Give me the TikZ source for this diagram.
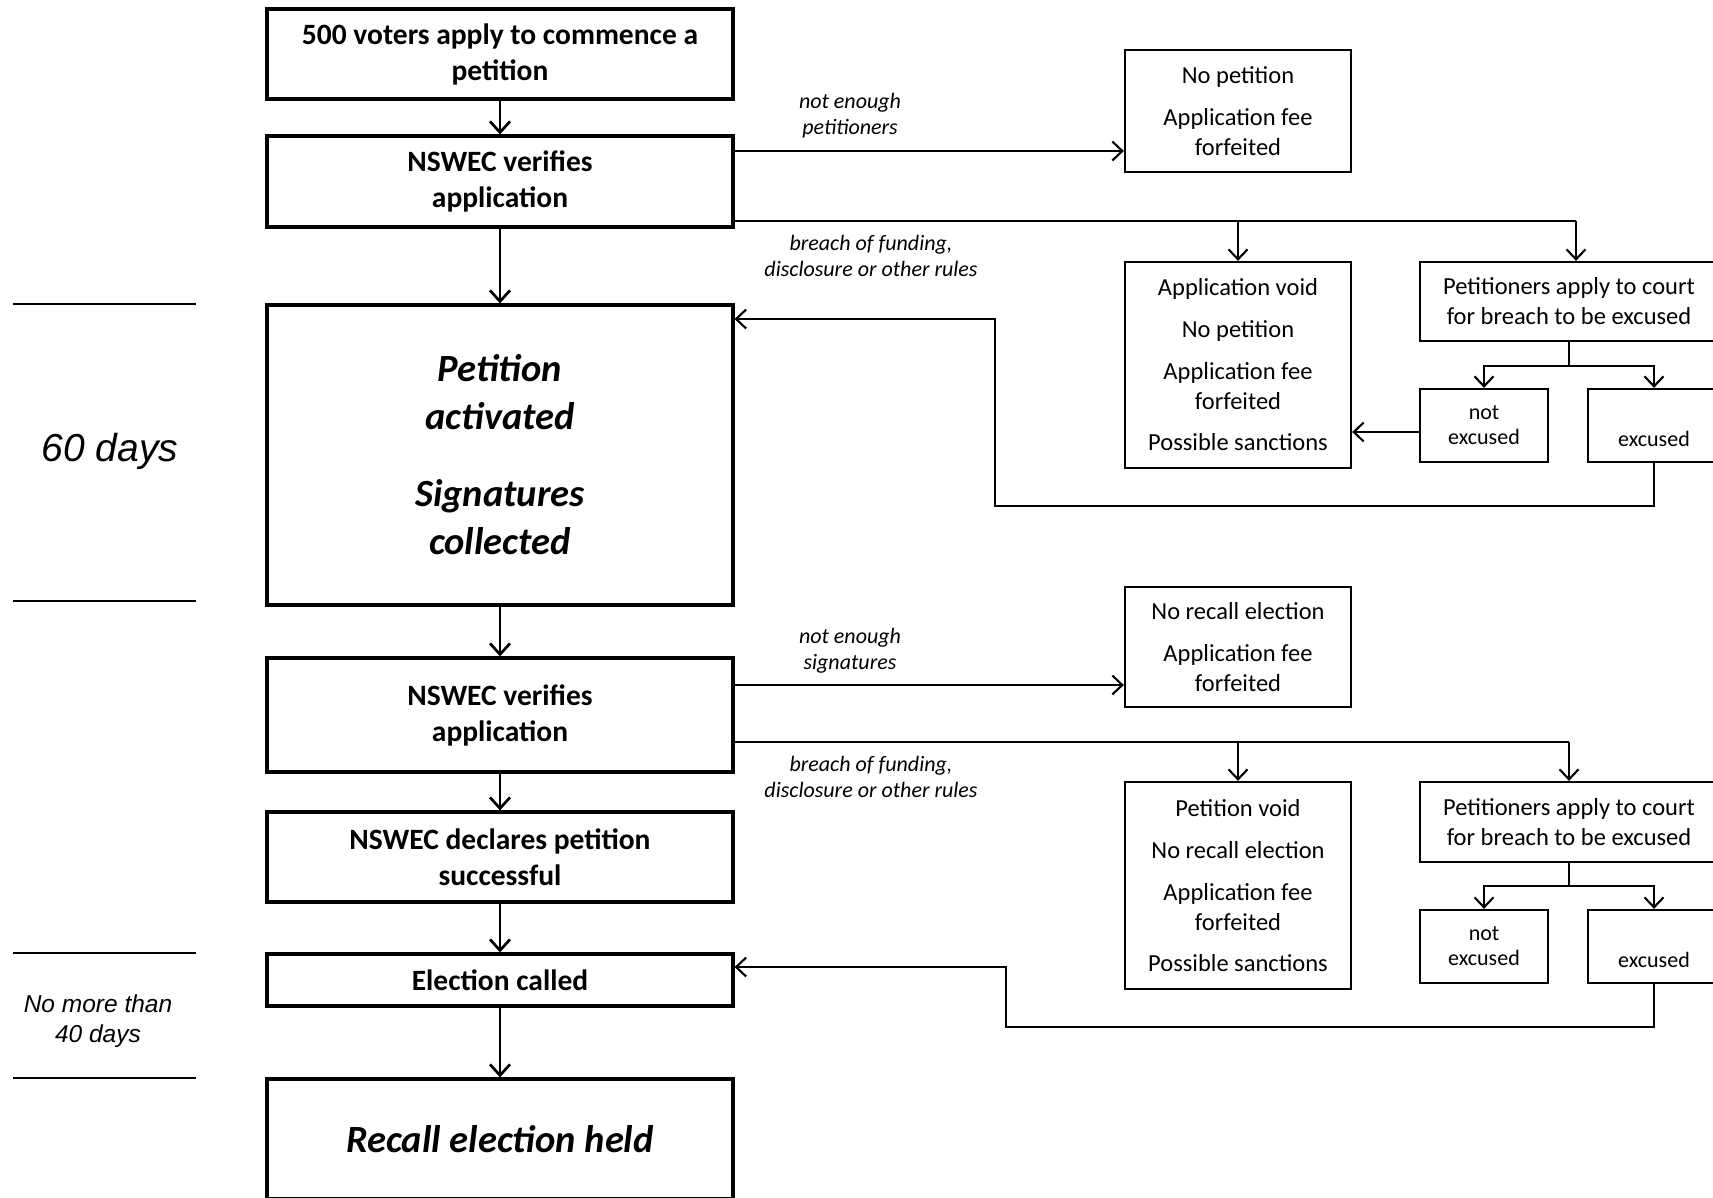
\documentclass[tikz,border=0pt]{standalone}
\usepackage{fontspec}
\setmainfont{Carlito}
\newfontfamily\arialf{Liberation Sans}
\usetikzlibrary{arrows.meta}
\begin{document}
\begin{tikzpicture}[x=1pt,y=-1pt,
  mainbox/.style={draw, line width=3.2pt, inner sep=0pt, align=center, minimum width=466pt,
    font=\fontsize{29.5pt}{36pt}\selectfont\bfseries},
  bigbox/.style={mainbox, font=\fontsize{38.5pt}{48pt}\selectfont\bfseries\itshape},
  sidebox/.style={draw, line width=2.3pt, inner sep=0pt, align=center,
    font=\fontsize{24.5pt}{30pt}\selectfont},
  smallbox/.style={sidebox, font=\fontsize{22pt}{25pt}\selectfont},
  lbl/.style={inner sep=0pt, align=center, font=\fontsize{22pt}{26pt}\selectfont\itshape},
  mainarrow/.style={line width=2.7pt, -{Straight Barb[length=11pt,width=20pt]}},
  thinarrow/.style={line width=2.1pt, -{Straight Barb[length=10pt,width=19pt]}},
  thinline/.style={line width=2.1pt},
  timeline/.style={line width=2.5pt}
]
\useasboundingbox (0,0) rectangle (1713,1197);
\clip (0,0) rectangle (1713,1197);
\fill[white] (0,0) rectangle (1713,1197);

% main column
\node[mainbox, minimum height=90pt] (b1) at (500,54) {500 voters apply to commence a\\petition};
\node[mainbox, minimum height=91pt] (b2) at (500,181.5) {NSWEC verifies\\application};
\node[bigbox, minimum height=300pt] (b3) at (500,455) {Petition\\activated\\[29pt]Signatures\\collected};
\node[mainbox, minimum height=114pt] (b4) at (500,715) {NSWEC verifies\\application};
\node[mainbox, minimum height=90pt] (b5) at (500,857) {NSWEC declares petition\\successful};
\node[mainbox, minimum height=52pt] (b6) at (500,980) {Election called};
\node[bigbox, minimum height=120pt] (b7) at (500,1139) {Recall election held};

\draw[mainarrow] (b1) -- (b2);
\draw[mainarrow] (b2) -- (b3);
\draw[mainarrow] (b3) -- (b4);
\draw[mainarrow] (b4) -- (b5);
\draw[mainarrow] (b5) -- (b6);
\draw[mainarrow] (b6) -- (b7);

% time labels
\node[inner sep=0pt, font=\arialf\fontsize{39pt}{46pt}\selectfont\itshape] (t60) at (110,451) {60 days};
\node[inner sep=0pt, align=center, font=\arialf\fontsize{24.5pt}{30pt}\selectfont\itshape] (t40) at (98,1021) {No more than\\40 days};
\coordinate (l1a) at (13,304); \coordinate (l1b) at (196,304);
\coordinate (l2a) at (13,601); \coordinate (l2b) at (196,601);
\coordinate (l3a) at (13,953); \coordinate (l3b) at (196,953);
\coordinate (l4a) at (13,1078); \coordinate (l4b) at (196,1078);
\draw[timeline] (l1a) -- (l1b);
\draw[timeline] (l2a) -- (l2b);
\draw[timeline] (l3a) -- (l3b);
\draw[timeline] (l4a) -- (l4b);

% section 1 side boxes
\node[sidebox, minimum width=226pt, minimum height=122pt] (nopet) at (1238,111)
  {No petition\\[12pt]Application fee\\forfeited};
\node[sidebox, minimum width=226pt, minimum height=206pt] (void1) at (1238,365)
  {Application void\\[12pt]No petition\\[12pt]Application fee\\forfeited\\[11pt]Possible sanctions};
\node[sidebox, minimum width=298pt, minimum height=79pt] (court1) at (1569,301.5)
  {Petitioners apply to court\\for breach to be excused};
\node[smallbox, minimum width=128pt, minimum height=73pt] (nex1) at (1484,425.5) {not\\excused};
\node[smallbox, minimum width=132pt, minimum height=73pt] (exc1) at (1654,425.5) {\strut\\excused};

\node[lbl] (lab1) at (850,116) {not enough\\petitioners};
\node[lbl] (lab2) at (871,256) {breach of funding,\\disclosure or other rules};

\draw[thinarrow] (b2.east |- 0,151) -- (nopet.west |- 0,151);
\draw[thinline] (b2.east |- 0,221) -- (1576,221);
\draw[thinarrow] (void1.north |- 0,221) -- (void1.north);
\draw[thinarrow] (1576,221) -- (court1.north -| 1576,0);
\draw[thinarrow] (court1.south) |- (nex1.north |- 0,366) -- (nex1.north);
\draw[thinarrow] (court1.south) |- (exc1.north |- 0,366) -- (exc1.north);
\draw[thinarrow] (nex1.west |- 0,432) -- (void1.east |- 0,432);
\coordinate (r1) at (995,506);
\draw[thinarrow] (exc1.south) |- (r1) |- (b3.east |- 0,319);

% section 2 side boxes
\node[sidebox, minimum width=226pt, minimum height=120pt] (norec) at (1238,647)
  {No recall election\\[12pt]Application fee\\forfeited};
\node[sidebox, minimum width=226pt, minimum height=207pt] (void2) at (1238,885.5)
  {Petition void\\[12pt]No recall election\\[12pt]Application fee\\forfeited\\[11pt]Possible sanctions};
\node[sidebox, minimum width=298pt, minimum height=80pt] (court2) at (1569,822)
  {Petitioners apply to court\\for breach to be excused};
\node[smallbox, minimum width=128pt, minimum height=73pt] (nex2) at (1484,946.5) {not\\excused};
\node[smallbox, minimum width=132pt, minimum height=73pt] (exc2) at (1654,946.5) {\strut\\excused};

\node[lbl] (lab3) at (850,651) {not enough\\signatures};
\node[lbl] (lab4) at (871,777) {breach of funding,\\disclosure or other rules};

\draw[thinarrow] (b4.east |- 0,685) -- (norec.west |- 0,685);
\draw[thinline] (b4.east |- 0,742) -- (court2.north |- 0,742);
\draw[thinarrow] (void2.north |- 0,742) -- (void2.north);
\draw[thinarrow] (court2.north |- 0,742) -- (court2.north);
\draw[thinarrow] (court2.south) |- (nex2.north |- 0,886) -- (nex2.north);
\draw[thinarrow] (court2.south) |- (exc2.north |- 0,886) -- (exc2.north);
\coordinate (r2) at (1006,1027);
\draw[thinarrow] (exc2.south) |- (r2) |- (b6.east |- 0,967);
\end{tikzpicture}
\end{document}
